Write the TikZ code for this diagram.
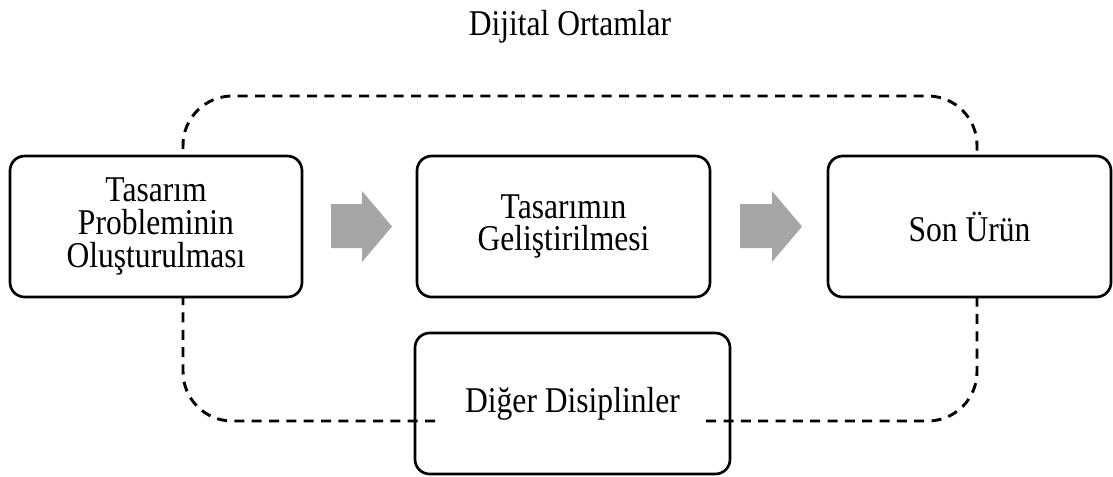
\documentclass[tikz,border=0pt]{standalone}
\usepackage{fontspec}
\setmainfont[FakeStretch=0.87]{Liberation Serif}
\usepackage{tikz}
\usetikzlibrary{calc}
\definecolor{arrowgray}{RGB}{166,166,166}

\begin{document}
\begin{tikzpicture}[x=0.75pt, y=-0.75pt,
    box/.style={draw, line width=2pt, rounded corners=11pt, fill=white, align=center,
        minimum height=105.75pt, inner sep=0pt, font=\fontsize{27.2}{24.5}\selectfont},
    dashline/.style={line width=2.2pt, dash pattern=on 7.5pt off 5.5pt, rounded corners=37pt},
    flowarrow/.style={fill=arrowgray}
    ]
    \useasboundingbox (0,0) rectangle (1113,476);

    % Outer dashed frame (open where the bottom box sits)
    \draw[dashline] (435,421) -| (183,96) -| (977,421) -- (705,421);

    % Title of the frame
    \node[font=\fontsize{27.2}{24.5}\selectfont] (dijital) at (570,27) {Dijital Ortamlar};

    % The three steps
    \node[box, minimum width=219pt] (problem) at (156,226.5) {Tasarım\\Probleminin\\Oluşturulması};
    \node[box, minimum width=219.75pt] (gelisim) at (563.5,226.5) {Tasarımın\\Geliştirilmesi};
    \node[box, minimum width=212.25pt] (urun) at (969.5,226.5) {Son Ürün};

    % Other disciplines, below
    \node[box, fill=none, minimum width=236.25pt] (diger) at (572.5,403.5) {Diğer Disiplinler};

    % Block arrows between the steps
    \fill[flowarrow] (331,204) -- (362,204) -- (362,191) -- (392,226.5) -- (362,262) -- (362,248) -- (331,248) -- cycle;
    \fill[flowarrow] (740,204) -- (772,204) -- (772,191) -- (802,226.5) -- (772,262) -- (772,248) -- (740,248) -- cycle;

\end{tikzpicture}
\end{document}
